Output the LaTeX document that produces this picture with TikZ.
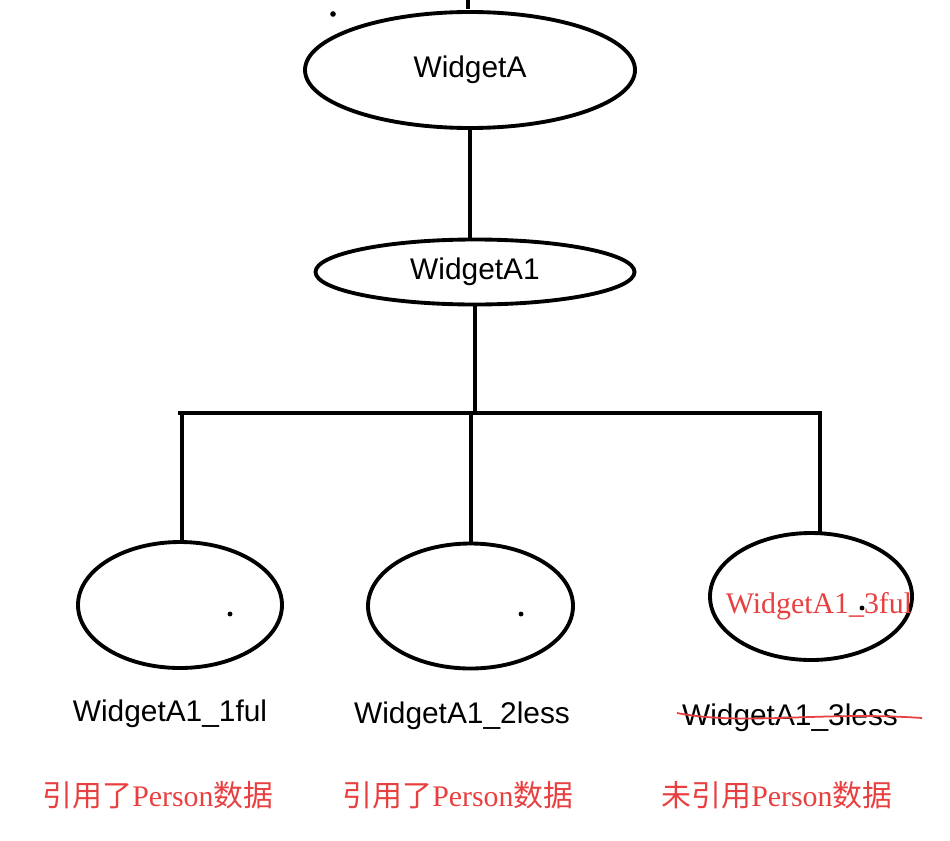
\documentclass[tikz,border=0pt]{standalone}
\usepackage{fontspec}
\usepackage{xcolor}
\usetikzlibrary{shapes.geometric,positioning}
\newfontfamily\labelfont{Liberation Sans}
\newfontfamily\notefont{Liberation Serif}
\newfontfamily\cjk{Noto Sans CJK SC}
\definecolor{notered}{RGB}{232,64,64}
\newcommand{\refnote}[2]{{\cjk #1}{\notefont Person}{\cjk #2}}
\tikzstyle{widget}=[
        draw = black,
        line width = 2.2pt,
        ellipse,
        inner sep = 0pt,
        font = \labelfont\fontsize{17}{20}\selectfont
    ]
\tikzstyle{name label}=[
        font = \labelfont\fontsize{17}{20}\selectfont
    ]
\tikzstyle{red note}=[
        text = notered,
        font = \notefont\fontsize{17}{20}\selectfont
    ]

\begin{document}
\begin{tikzpicture}[link/.style = {line width = 2pt}]
        \useasboundingbox (0,0) rectangle (19,-16.8);
        \node[widget, minimum width = 6.6cm, minimum height = 2.32cm] (A) at (9.4,-1.4) {WidgetA};
        \node[widget, minimum width = 6.38cm, minimum height = 1.3cm] (A1) at (9.5,-5.44) {WidgetA1};
        \node[widget, minimum width = 4.08cm, minimum height = 2.52cm] (B1) at (3.6,-12.1) {};
        \node[widget, minimum width = 4.1cm, minimum height = 2.5cm] (B2) at (9.41,-12.12) {};
        \node[widget, minimum width = 4.04cm, minimum height = 2.54cm] (B3) at (16.22,-11.93) {};
        \node[red note] (B3text) at (16.38,-12.12) {WidgetA1\_3ful};

        \node[name label] (L1) at (3.4,-14.28) {WidgetA1\_1ful};
        \node[name label] (L2) at (9.24,-14.32) {WidgetA1\_2less};
        \node[name label] (L3) at (15.8,-14.36) {WidgetA1\_3less};
        \node[red note] (N1) at (3.16,-15.9) {\refnote{引用了}{数据}};
        \node[red note] (N2) at (9.16,-15.9) {\refnote{引用了}{数据}};
        \node[red note] (N3) at (15.54,-15.9) {\refnote{未引用}{数据}};

        % tree links
        \coordinate (top) at (9.36,0);
        \coordinate (barL) at (3.56,-8.26);
        \coordinate (barR) at (16.44,-8.26);
        \coordinate (j1) at (3.64,-8.26);
        \coordinate (j2) at (9.42,-8.26);
        \coordinate (j3) at (16.4,-8.26);
        \draw[link] (top) -- ++(0,-0.18);
        \draw[link] (A.south) -- (A.south |- A1.north);
        \draw[link] (A1.south) -- (A1.south |- barL);
        \draw[link] (barL) -- (barR);
        \draw[link] (j1) -- (j1 |- B1.north);
        \draw[link] (j2) -- (j2 |- B2.north);
        \draw[link] (j3) -- ++(0,-2.38);

        % stray dots
        \fill (6.66,-0.28) circle (1.6pt);
        \fill (4.6,-12.28) circle (1.4pt);
        \fill (10.42,-12.28) circle (1.4pt);
        \fill (17.24,-12.16) circle (1.4pt);

        % strike through
        \draw[notered, line width = 1pt] (13.54,-14.26) .. controls (14.9,-14.52) and (16.4,-14.22) .. (18.44,-14.36);
    \end{tikzpicture}
\end{document}
